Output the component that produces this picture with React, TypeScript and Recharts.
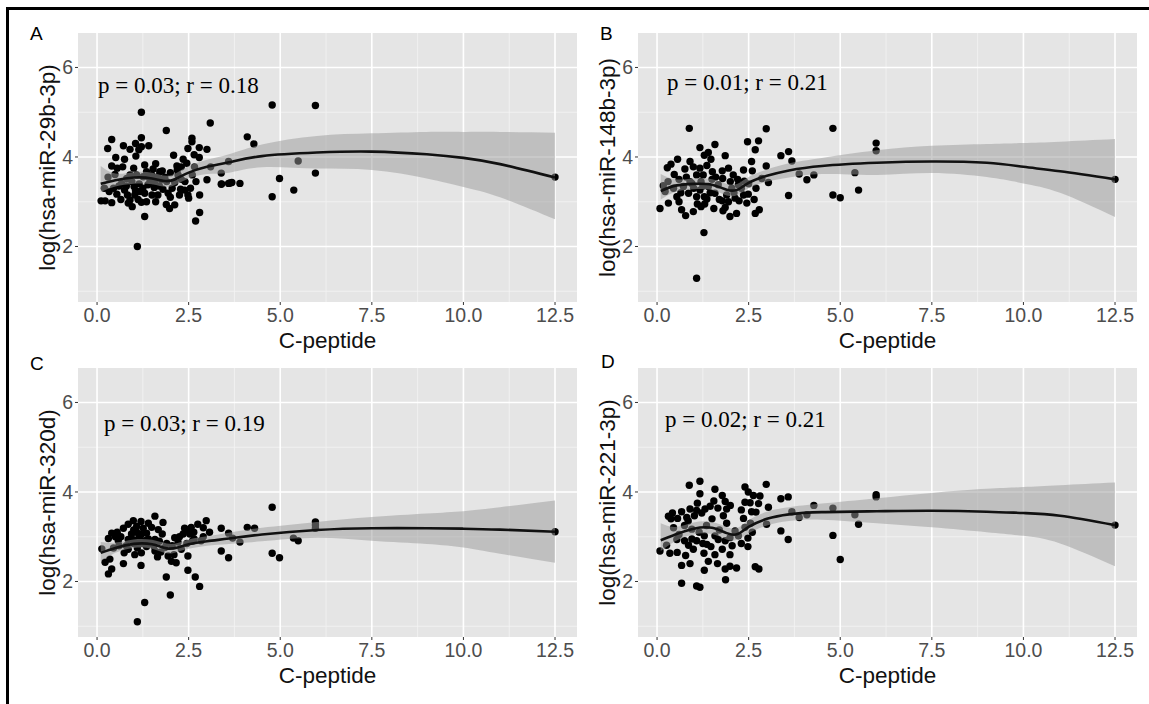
import {
  Area,
  CartesianGrid,
  ComposedChart,
  Label,
  Line,
  Scatter,
  XAxis,
  YAxis,
} from "recharts";

// axis setup shared by all four panels
const X_TICKS = [0, 2.5, 5, 7.5, 10, 12.5];
const X_MINOR = [1.25, 3.75, 6.25, 8.75, 11.25];
const Y_TICKS = [2, 4, 6];
const Y_MINOR = [1, 3, 5];

// smoother (x grid, fit, lower, upper)
const CURVE_X = [0.1, 0.5, 1, 1.5, 1.9, 2.2, 2.5, 3, 3.6, 4.5, 6, 7.5, 9, 10, 11, 12.5];

const A_FIT = [3.4, 3.48, 3.54, 3.52, 3.46, 3.53, 3.65, 3.78, 3.88, 4.02, 4.1, 4.12, 4.06, 3.98, 3.84, 3.54];
const A_LO = [3.22, 3.34, 3.4, 3.39, 3.33, 3.4, 3.52, 3.62, 3.65, 3.77, 3.74, 3.71, 3.52, 3.33, 3.1, 2.61];
const A_HI = [3.8, 3.63, 3.66, 3.65, 3.58, 3.66, 3.8, 3.94, 4.06, 4.28, 4.47, 4.53, 4.56, 4.56, 4.56, 4.54];

const B_FIT = [3.24, 3.36, 3.4, 3.38, 3.27, 3.27, 3.42, 3.58, 3.7, 3.8, 3.87, 3.9, 3.87, 3.78, 3.68, 3.5];
const B_LO = [3.05, 3.22, 3.28, 3.26, 3.14, 3.15, 3.3, 3.45, 3.54, 3.62, 3.6, 3.64, 3.55, 3.41, 3.2, 2.66];
const B_HI = [3.62, 3.5, 3.52, 3.5, 3.4, 3.4, 3.55, 3.72, 3.86, 3.98, 4.15, 4.25, 4.29, 4.31, 4.34, 4.4];

const C_FIT = [2.64, 2.75, 2.84, 2.83, 2.74, 2.76, 2.83, 2.9, 2.96, 3.05, 3.15, 3.19, 3.19, 3.18, 3.16, 3.11];
const C_LO = [2.45, 2.64, 2.75, 2.73, 2.63, 2.66, 2.73, 2.8, 2.84, 2.9, 2.98, 2.91, 2.84, 2.76, 2.62, 2.42];
const C_HI = [2.88, 2.87, 2.94, 2.93, 2.85, 2.86, 2.94, 3.01, 3.09, 3.2, 3.33, 3.44, 3.52, 3.57, 3.66, 3.81];

const D_FIT = [2.92, 3.05, 3.18, 3.2, 3.08, 3.06, 3.22, 3.4, 3.5, 3.55, 3.57, 3.58, 3.56, 3.53, 3.47, 3.26];
const D_LO = [2.68, 2.9, 3.05, 3.06, 2.94, 2.93, 3.08, 3.25, 3.35, 3.38, 3.3, 3.21, 3.1, 3.02, 2.85, 2.34];
const D_HI = [3.3, 3.22, 3.32, 3.33, 3.22, 3.2, 3.37, 3.56, 3.66, 3.74, 3.86, 3.98, 4.07, 4.11, 4.15, 4.21];

// scatter points [C-peptide, log expression]
const A_POINTS = [
  [1.21, 5.0], [1.89, 4.59], [3.09, 4.76], [0.4, 4.39], [0.29, 4.19], [0.72, 4.25], [0.51, 3.99],
  [0.4, 3.8], [0.9, 4.17], [1.06, 4.02], [1.21, 4.43], [1.21, 4.23], [1.41, 4.25], [1.14, 4.16],
  [1.3, 3.82], [0.7, 3.78], [1.53, 3.73], [1.78, 3.69], [2.09, 4.04], [2.59, 4.42], [2.59, 4.34],
  [2.48, 4.19], [2.79, 4.21], [3.0, 4.17], [2.79, 3.99], [2.45, 3.86], [2.3, 3.78], [2.18, 3.8],
  [2.19, 3.71], [2.66, 3.78], [3.1, 3.78], [3.59, 3.9], [3.39, 3.64], [3.39, 3.39], [3.59, 3.41],
  [3.68, 3.43], [3.0, 3.49], [0.49, 3.61], [0.33, 3.23], [0.11, 3.02], [0.22, 3.02], [0.4, 2.98],
  [0.54, 3.17], [0.67, 3.41], [0.75, 3.26], [0.83, 3.15], [0.9, 3.04], [0.85, 2.97], [0.96, 2.89],
  [1.03, 3.15], [1.01, 3.34], [1.17, 3.23], [1.21, 2.99], [1.3, 2.67], [1.1, 2.0], [1.3, 3.19],
  [1.39, 3.38], [1.56, 3.32], [1.66, 3.15], [1.8, 3.28], [1.89, 2.94], [1.98, 2.85], [2.12, 2.93],
  [1.94, 3.19], [1.76, 3.49], [1.66, 3.56], [2.12, 3.43], [2.28, 3.28], [2.48, 3.15], [2.5, 3.08],
  [2.8, 3.15], [2.8, 2.76], [2.69, 2.57], [1.71, 3.67], [1.49, 3.6], [1.35, 3.67], [0.81, 3.52],
  [1.08, 3.6], [1.26, 3.56], [1.58, 3.47], [2.39, 3.26], [2.21, 3.6], [0.95, 3.45], [1.15, 3.4],
  [1.45, 3.45], [0.6, 3.35], [1.9, 3.45], [2.0, 3.1], [2.3, 3.5], [2.6, 3.6], [1.0, 3.75],
  [1.6, 3.0], [0.3, 3.55], [0.45, 3.3], [0.65, 3.05], [0.8, 3.35], [1.12, 3.05], [1.35, 3.0],
  [1.5, 3.15], [1.7, 3.35], [1.85, 3.55], [2.05, 3.3], [2.25, 3.15], [2.4, 3.45], [2.55, 3.3],
  [0.2, 3.3], [1.25, 3.3], [1.05, 3.25], [0.9, 3.6], [1.4, 3.55], [2.7, 3.45], [0.55, 3.75],
  [1.6, 3.85], [2.0, 3.65], [2.35, 3.95], [0.75, 3.95], [1.05, 4.3], [2.65, 4.05],
  [4.78, 5.16], [5.96, 5.15], [4.1, 4.45], [4.28, 4.29], [3.4, 3.4], [3.63, 3.42], [3.9, 3.41],
  [4.78, 3.11], [4.98, 3.52], [5.49, 3.91], [5.37, 3.26], [5.96, 3.64], [12.5, 3.55],
];

const B_POINTS = [
  [0.88, 4.64], [2.98, 4.63], [2.47, 4.34], [2.77, 4.36], [2.68, 4.16], [1.58, 4.28], [1.17, 4.21],
  [1.29, 4.04], [1.47, 3.95], [1.86, 4.03], [0.56, 3.95], [0.38, 3.84], [0.28, 3.76], [2.58, 3.9],
  [2.98, 3.8], [3.38, 4.03], [3.59, 4.12], [3.68, 3.91], [0.47, 3.61], [0.76, 3.73], [0.99, 3.78],
  [1.17, 3.75], [1.36, 3.81], [1.08, 3.6], [1.26, 3.6], [1.51, 3.67], [1.78, 3.69], [2.08, 3.6],
  [2.36, 3.71], [2.6, 3.69], [1.79, 3.52], [0.17, 3.36], [0.22, 3.23], [0.08, 2.85], [0.31, 2.97],
  [0.54, 3.11], [0.72, 3.34], [0.86, 3.19], [0.95, 3.41], [1.08, 3.11], [1.17, 3.26], [1.29, 3.11],
  [0.67, 2.82], [0.78, 2.69], [0.99, 2.78], [1.2, 2.89], [1.36, 3.06], [1.4, 3.34], [1.58, 3.19],
  [1.67, 3.38], [1.78, 3.02], [1.86, 2.87], [1.95, 3.0], [1.99, 2.67], [2.13, 3.08], [2.17, 2.74],
  [2.24, 3.02], [2.36, 3.15], [2.45, 2.97], [2.49, 3.17], [2.38, 3.46], [2.68, 2.74], [2.79, 2.82],
  [2.86, 3.52], [3.04, 3.43], [3.59, 3.14], [1.28, 2.31], [1.08, 1.29], [2.04, 3.3], [2.22, 3.38],
  [0.9, 3.45], [1.2, 3.45], [1.5, 3.5], [0.6, 3.5], [2.0, 3.45], [1.1, 2.95], [0.45, 3.3],
  [0.65, 3.2], [0.8, 3.55], [1.0, 3.3], [1.25, 3.35], [1.45, 3.2], [1.6, 3.55], [1.7, 3.05],
  [1.9, 3.15], [2.1, 3.2], [2.3, 3.3], [2.5, 3.4], [2.65, 3.05], [1.3, 2.95], [1.55, 2.85],
  [0.3, 3.45], [1.95, 3.75], [2.2, 3.5], [0.9, 3.9], [1.4, 4.1], [2.7, 3.3], [0.6, 3.0], [1.8, 2.8],
  [4.8, 4.64], [4.8, 3.15], [5.0, 3.09], [5.4, 3.65], [5.5, 3.26], [5.98, 4.31], [5.98, 4.14],
  [4.09, 3.49], [4.28, 3.6], [3.88, 3.62], [12.5, 3.5],
];

const C_POINTS = [
  [1.58, 3.46], [0.99, 3.36], [1.2, 3.34], [1.8, 3.32], [0.85, 3.28], [0.72, 3.19], [0.4, 3.08],
  [0.31, 2.96], [0.58, 2.91], [1.08, 3.23], [1.26, 3.19], [1.35, 3.08], [1.49, 3.21], [1.67, 3.16],
  [1.78, 3.06], [0.94, 3.06], [1.12, 2.94], [0.85, 2.94], [1.3, 2.91], [1.58, 2.94], [1.08, 3.1],
  [0.13, 2.73], [0.22, 2.43], [0.4, 2.28], [0.31, 2.17], [0.72, 2.4], [1.2, 2.36], [0.74, 2.64],
  [0.85, 2.72], [1.03, 2.6], [1.21, 2.64], [1.35, 2.78], [1.58, 2.68], [1.74, 2.66], [1.85, 2.76],
  [1.94, 2.57], [2.03, 2.45], [2.16, 2.42], [2.21, 2.88], [2.3, 2.72], [2.48, 2.57], [2.39, 3.19],
  [2.57, 3.21], [2.53, 3.06], [2.64, 3.1], [2.75, 3.28], [2.98, 3.36], [3.07, 3.1], [3.39, 3.19],
  [3.59, 3.08], [3.39, 2.68], [3.59, 2.53], [2.48, 2.25], [2.68, 2.1], [2.8, 1.89], [1.89, 2.1],
  [2.0, 1.7], [1.3, 1.53], [1.1, 1.1], [2.35, 3.06], [2.84, 2.91], [2.12, 2.98], [0.6, 2.8],
  [1.0, 2.85], [1.45, 2.85], [1.15, 3.0], [2.6, 2.9], [0.5, 3.0], [0.45, 2.75], [0.65, 3.0],
  [0.8, 2.8], [0.95, 2.95], [1.1, 2.75], [1.25, 2.85], [1.4, 2.95], [1.55, 2.8], [1.7, 2.9],
  [1.9, 2.85], [2.05, 2.8], [2.25, 3.0], [2.45, 2.85], [2.65, 2.95], [2.9, 3.0], [1.0, 3.15],
  [1.4, 3.3], [0.55, 3.1], [2.45, 3.15], [1.65, 2.55], [2.1, 2.6], [0.35, 2.5], [2.9, 3.2],
  [1.2, 3.05], [4.78, 3.66], [4.78, 2.63], [4.98, 2.53], [3.9, 2.88], [3.7, 2.97], [4.1, 3.21],
  [4.3, 3.19], [5.36, 2.97], [5.49, 2.91], [5.96, 3.33], [5.96, 3.26], [5.96, 3.19], [12.5, 3.11],
];

const D_POINTS = [
  [1.17, 4.24], [0.88, 4.15], [1.58, 4.06], [2.4, 4.11], [2.98, 4.17], [1.17, 3.96], [1.78, 3.92],
  [2.49, 4.0], [2.63, 3.92], [2.81, 3.91], [3.38, 3.85], [3.58, 3.89], [1.86, 3.79], [2.4, 3.77],
  [2.54, 3.76], [2.77, 3.74], [3.04, 3.66], [1.66, 3.64], [1.45, 3.68], [1.31, 3.62], [1.08, 3.59],
  [0.9, 3.62], [0.67, 3.56], [0.42, 3.53], [0.31, 3.46], [0.38, 3.4], [0.56, 3.41], [0.81, 3.43],
  [1.02, 3.47], [1.22, 3.53], [1.81, 3.47], [1.9, 3.62], [2.36, 3.41], [2.58, 3.56], [2.99, 3.28],
  [3.38, 3.13], [3.58, 2.94], [0.08, 2.68], [0.35, 2.63], [0.26, 2.81], [0.54, 2.94], [0.75, 2.91],
  [0.86, 2.81], [0.95, 3.17], [0.99, 2.72], [1.08, 2.91], [1.29, 3.02], [1.36, 2.83], [1.58, 3.02],
  [1.67, 2.94], [1.86, 2.91], [1.99, 2.98], [2.13, 3.13], [2.22, 3.02], [2.4, 3.21], [2.48, 2.97],
  [2.48, 2.78], [0.78, 2.58], [0.67, 2.36], [0.9, 2.4], [1.28, 2.63], [1.58, 2.6], [1.78, 2.72],
  [1.99, 2.6], [1.29, 2.25], [0.67, 1.96], [1.08, 1.9], [1.17, 1.87], [1.87, 2.04], [1.86, 2.28],
  [1.99, 2.34], [2.17, 2.3], [2.68, 2.33], [2.78, 2.28], [1.47, 2.78], [0.45, 3.2], [0.6, 3.05],
  [0.75, 3.25], [0.95, 2.95], [1.15, 3.1], [1.35, 3.25], [1.5, 3.4], [1.7, 3.15], [1.9, 3.3],
  [2.05, 2.8], [2.3, 2.85], [2.55, 3.3], [2.7, 3.55], [1.1, 3.75], [1.55, 3.8], [1.4, 2.45],
  [0.55, 2.65], [2.3, 3.6], [0.85, 3.35], [1.25, 2.85], [2.0, 3.7], [2.6, 3.1], [1.65, 2.4],
  [4.8, 3.03], [5.0, 2.49], [4.8, 3.64], [4.28, 3.7], [4.09, 3.49], [3.88, 3.43], [3.68, 3.56],
  [5.4, 3.49], [5.5, 3.28], [5.98, 3.94], [5.98, 3.89], [12.5, 3.26],
];

const SANS = "'Liberation Sans', Arial, sans-serif";
const SERIF = "'Liberation Serif', 'Times New Roman', serif";

const buildCurve = (fit: number[], lo: number[], hi: number[]) =>
  CURVE_X.map((x, i) => ({ x, fit: fit[i], band: [lo[i], hi[i]] }));

const buildPoints = (pts: number[][]) => pts.map(([x, y]) => ({ x, y }));

const Dot = (props: any) => <circle cx={props.cx} cy={props.cy} r={3.7} fill="#000" />;

function Panel({
  left,
  top,
  letter,
  yTitle,
  stat,
  statLeft,
  statTop,
  letterLeft,
  letterTop,
  points,
  curve,
}: {
  left: number;
  top: number;
  letter: string;
  yTitle: string;
  stat: string;
  statLeft: number;
  statTop: number;
  letterLeft: number;
  letterTop: number;
  points: { x: number; y: number }[];
  curve: { x: number; fit: number; band: number[] }[];
}) {
  return (
    <div style={{ position: "absolute", left, top, width: 580, height: 362 }}>
      <ComposedChart
        width={580}
        height={362}
        data={curve}
        margin={{ top: 33, right: 3, bottom: 0, left: 0 }}
      >
        <CartesianGrid
          fill="#E5E5E5"
          stroke="#F4F4F4"
          strokeWidth={0.8}
          horizontalValues={Y_MINOR}
          verticalValues={X_MINOR}
        />
        <CartesianGrid
          stroke="#FFFFFF"
          strokeWidth={1.6}
          horizontalValues={Y_TICKS}
          verticalValues={X_TICKS}
        />
        <XAxis
          type="number"
          dataKey="x"
          domain={[-0.52, 13.1]}
          ticks={X_TICKS}
          allowDataOverflow
          tickFormatter={(v) => v.toFixed(1)}
          height={60}
          axisLine={false}
          tickSize={3}
          tickMargin={3}
          tickLine={{ stroke: "#333" }}
          tick={{ fill: "#4D4D4D", fontSize: 19.5, fontFamily: SANS }}
        >
          <Label
            content={() => (
              <text
                x={327.5}
                y={340}
                textAnchor="middle"
                dominantBaseline="central"
                fontSize={22.5}
                fontFamily={SANS}
                fill="#111"
              >
                C-peptide
              </text>
            )}
          />
        </XAxis>
        <YAxis
          type="number"
          domain={[0.76, 6.77]}
          ticks={Y_TICKS}
          allowDataOverflow
          width={78}
          axisLine={false}
          tickSize={3}
          tickMargin={2}
          tickLine={{ stroke: "#333" }}
          tick={{ fill: "#4D4D4D", fontSize: 19.5, fontFamily: SANS }}
        >
          <Label
            content={() => (
              <text
                x={47}
                y={167.5}
                transform="rotate(-90 47 167.5)"
                textAnchor="middle"
                dominantBaseline="central"
                fontSize={22.5}
                fontFamily={SANS}
                fill="#111"
              >
                {yTitle}
              </text>
            )}
          />
        </YAxis>
        <Scatter
          data={points}
          dataKey="y"
          shape={Dot}
          zIndex={50}
          isAnimationActive={false}
        />
        <Area
          dataKey="band"
          type="natural"
          fill="#999999"
          fillOpacity={0.5}
          stroke="none"
          zIndex={100}
          isAnimationActive={false}
        />
        <Line
          dataKey="fit"
          type="natural"
          stroke="#111"
          strokeWidth={2.6}
          dot={false}
          zIndex={400}
          isAnimationActive={false}
        />
      </ComposedChart>
      <div
        style={{
          position: "absolute",
          left: letterLeft,
          top: letterTop,
          fontFamily: SANS,
          fontSize: 19,
          lineHeight: "19px",
          color: "#000",
        }}
      >
        {letter}
      </div>
      <div
        style={{
          position: "absolute",
          left: statLeft,
          top: statTop,
          fontFamily: SERIF,
          fontSize: 23,
          lineHeight: "23px",
          color: "#000",
          whiteSpace: "nowrap",
        }}
      >
        {stat}
      </div>
    </div>
  );
}

export default function App() {
  return (
    <div
      style={{
        position: "absolute",
        left: 0,
        top: 0,
        width: 1149,
        height: 704,
        background: "#fff",
        overflow: "hidden",
      }}
    >
      <div
        style={{
          position: "absolute",
          left: 6,
          top: 7,
          right: 0,
          bottom: 0,
          borderTop: "3px solid #000",
          borderLeft: "3px solid #000",
        }}
      />
      <Panel
        left={0}
        top={0}
        letter="A"
        yTitle="log(hsa-miR-29b-3p)"
        stat="p = 0.03; r = 0.18"
        statLeft={98}
        statTop={74}
        letterLeft={30}
        letterTop={24}
        points={buildPoints(A_POINTS)}
        curve={buildCurve(A_FIT, A_LO, A_HI)}
      />
      <Panel
        left={560}
        top={0}
        letter="B"
        yTitle="log(hsa-miR-148b-3p)"
        stat="p = 0.01; r = 0.21"
        statLeft={107}
        statTop={71}
        letterLeft={40}
        letterTop={24}
        points={buildPoints(B_POINTS)}
        curve={buildCurve(B_FIT, B_LO, B_HI)}
      />
      <Panel
        left={0}
        top={335}
        letter="C"
        yTitle="log(hsa-miR-320d)"
        stat="p = 0.03; r = 0.19"
        statLeft={104}
        statTop={77}
        letterLeft={30}
        letterTop={19}
        points={buildPoints(C_POINTS)}
        curve={buildCurve(C_FIT, C_LO, C_HI)}
      />
      <Panel
        left={560}
        top={335}
        letter="D"
        yTitle="log(hsa-miR-221-3p)"
        stat="p = 0.02; r = 0.21"
        statLeft={105}
        statTop={73}
        letterLeft={41}
        letterTop={17}
        points={buildPoints(D_POINTS)}
        curve={buildCurve(D_FIT, D_LO, D_HI)}
      />
    </div>
  );
}
